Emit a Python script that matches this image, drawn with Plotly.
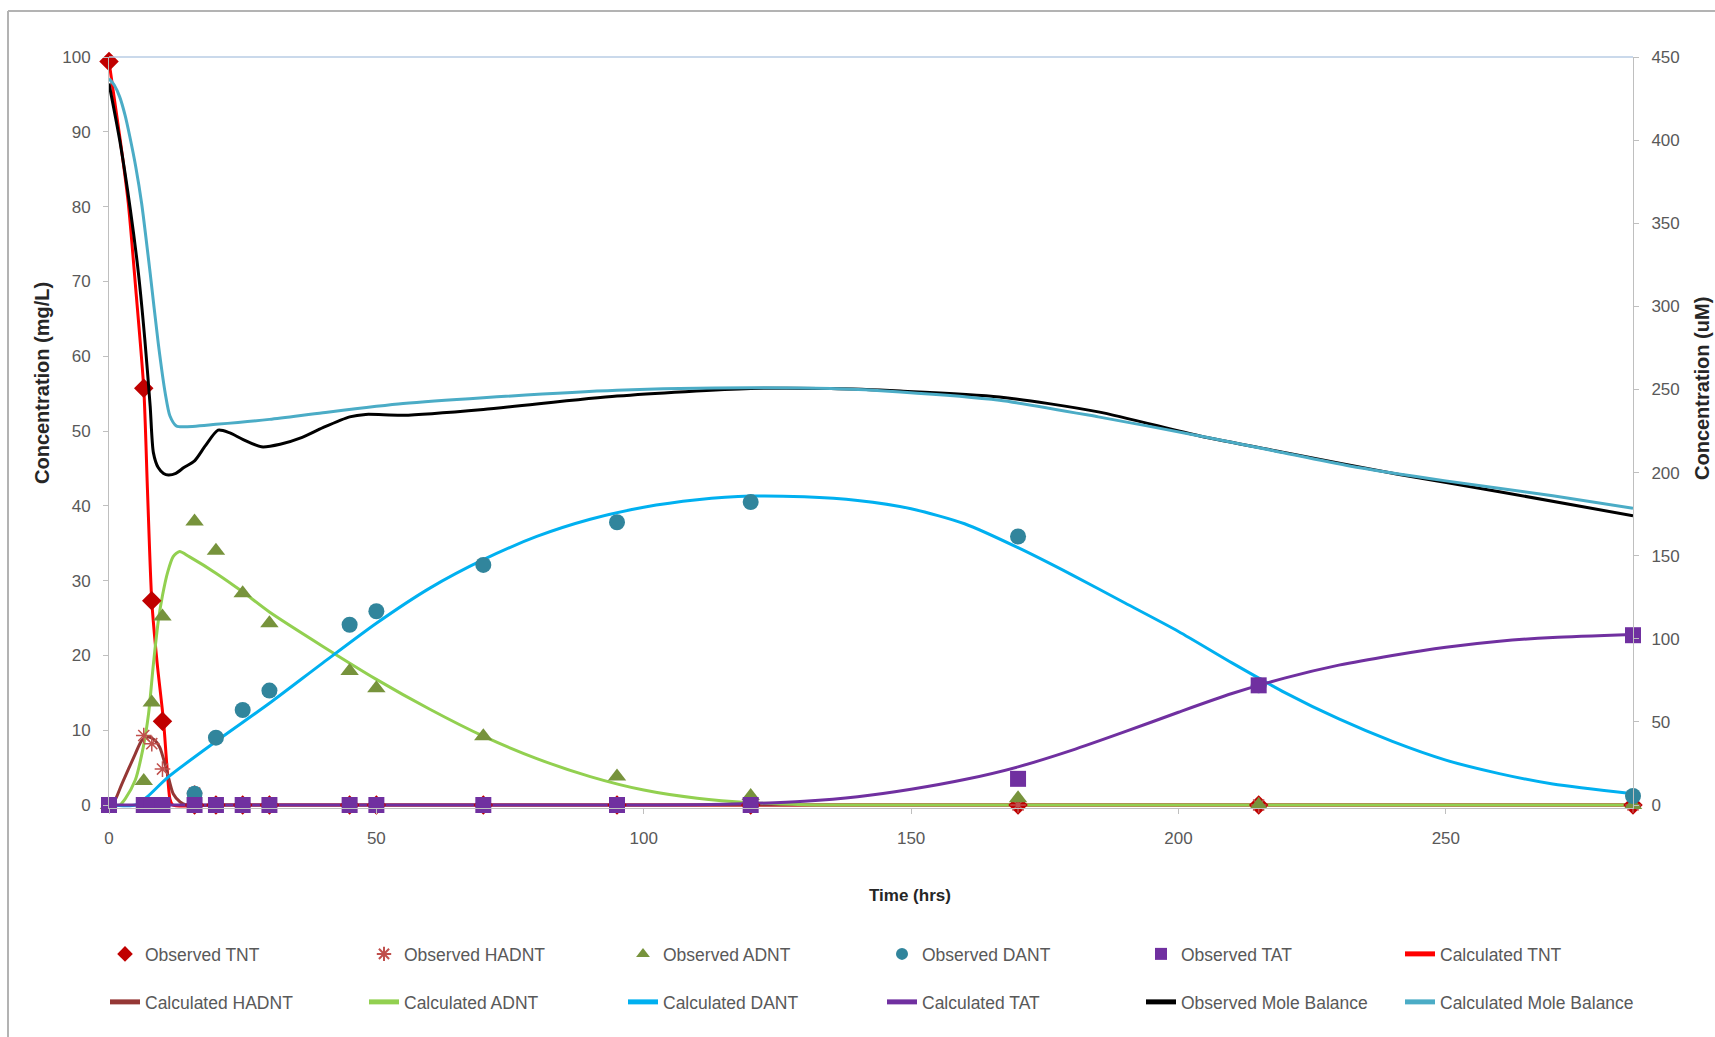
import plotly.graph_objects as go

# ---------------- data ----------------
obs_time = [0, 6.5, 8, 10, 16, 20, 25, 30, 45, 50, 70, 95, 120, 170, 215, 285]
obs_tnt = [99.4, 55.7, 27.3, 11.2, 0, 0, 0, 0, 0, 0, 0, 0, 0, 0, 0, 0]
obs_hadnt = [0, 9.3, 8.2, 4.8, 1.6, 0, 0, 0, 0, 0, 0, 0, 0, 0, 0, 0]
obs_adnt = [0, 3.2, 13.7, 25.2, 37.9, 34.0, 28.3, 24.3, 17.9, 15.6, 9.2, 3.8, 1.2, 0.9, 0, 0]
obs_dant = [0, 0, 0, 0, 1.5, 9.0, 12.7, 15.3, 24.1, 25.9, 32.1, 37.8, 40.5, 35.9, 16.0, 1.2]
obs_tat = [0, 0, 0, 0, 0, 0, 0, 0, 0, 0, 0, 0, 0, 3.5, 16.0, 22.7]

calc_tnt_t = [0, 2.1, 3.6, 5, 6.5, 7.2, 8, 9, 10.2, 10.8, 11.4, 11.9, 20, 285]
calc_tnt = [99.4, 88.9, 80.5, 69, 55.7, 42, 27.3, 19, 11.2, 5.5, 0.8, 0, 0, 0]

calc_hadnt_t = [0, 1, 2.4, 4.9, 6.1, 7.4, 8.5, 9.5, 10.8, 12, 13.3, 14.5, 20, 285]
calc_hadnt = [0, 0.5, 2.8, 6.8, 8.6, 9.1, 8.7, 7.7, 4.6, 1.5, 0.4, 0, 0, 0]

calc_adnt_t = [0, 2, 3, 4.9, 6.4, 7.4, 8.3, 9.2, 10, 11, 12, 13.2, 15, 20, 25, 30, 40,
               50, 60, 70, 80, 90, 100, 110, 120, 130, 140, 285]
calc_adnt = [0, 0, 0.8, 3.3, 7.7, 12.2, 18.8, 24.5, 28, 31.2, 33.2, 33.9, 33.2, 31, 28.5,
             25.8, 21.2, 16.8, 12.8, 9.2, 6.2, 3.8, 2.0, 0.9, 0.3, 0.05, 0, 0]

calc_dant_t = [0, 5, 7, 11, 20, 30, 40, 50, 60, 70, 80, 90, 100, 110, 120, 130, 140, 150,
               160, 170, 180, 190, 200, 210, 220, 230, 240, 250, 260, 270, 285]
calc_dant = [0, 0, 1.0, 3.7, 8.5, 13.6, 19, 24.3, 29, 32.8, 35.9, 38.2, 39.8, 40.8, 41.3,
             41.2, 40.7, 39.6, 37.6, 34.4, 30.8, 27, 23.2, 19, 15, 11.5, 8.5, 6, 4.2, 2.8, 1.5]

calc_tat_t = [0, 100, 110, 120, 130, 140, 150, 160, 170, 180, 190, 200, 210, 220, 230, 240,
              250, 260, 270, 285]
calc_tat = [0, 0, 0.05, 0.2, 0.5, 1.1, 2.1, 3.4, 5.1, 7.3, 9.8, 12.4, 14.9, 17.0, 18.7, 20.0,
            21.1, 21.9, 22.4, 22.8]

obs_mb_t = [0, 2, 4, 5.5, 6.7, 7.7, 8.3, 9.2, 10.2, 11.1, 12.5, 14, 16, 18, 20.4, 22.5, 25,
            28.5, 32, 36, 40, 45, 48, 55, 70, 95, 120, 135, 148, 166.5, 185, 204, 220, 241,
            260, 285]
obs_mb = [434, 400, 358, 320, 280, 240, 212, 203, 199.5, 198.5, 199.5, 203, 207, 216, 225.5,
          224, 220, 215.5, 217, 221, 227, 233.5, 235, 234.5, 238, 246, 250.5, 250.5, 249,
          245.5, 236.5, 222, 212, 199, 188.5, 174]

calc_mb_t = [0, 1, 2, 3, 3.9, 5, 6.1, 7.7, 9.2, 10.5, 11.4, 12.6, 14, 20, 30, 40, 55, 70, 95,
             120, 135, 148, 166.5, 185, 204, 218, 232, 250, 270, 285]
calc_mb = [437, 433, 426, 415, 402, 384, 362, 320, 278, 248, 234, 228, 227.5, 229, 232, 236,
           241.5, 245, 249.5, 251, 250.5, 248.5, 243.5, 233.5, 222, 213, 204, 195, 186, 178.5]

x_ticks = [0, 50, 100, 150, 200, 250]

# ---------------- styling ----------------
FONT = "Liberation Sans Narrow, Arial Narrow, Liberation Sans, Arial, sans-serif"
AXIS_GREY = "#bfbfbf"
TICK_COLOR = "#595959"

fig = go.Figure()


def add_line(name, t, v, color, rank, legend, yaxis="y"):
    fig.add_trace(go.Scatter(
        x=t, y=v, name=name, mode="lines", yaxis=yaxis,
        line=dict(color=color, width=3, shape="spline", smoothing=0.7),
        legend=legend, legendrank=rank, hoverinfo="skip"))


def add_markers(name, t, v, color, symbol, size, rank, legend, line=None):
    fig.add_trace(go.Scatter(
        x=t, y=v, name=name, mode="markers", cliponaxis=False,
        marker=dict(color=color, symbol=symbol, size=size,
                    line=line or dict(width=0)),
        legend=legend, legendrank=rank, hoverinfo="skip"))


add_line("Calculated TNT", calc_tnt_t, calc_tnt, "#ff0000", 6, "legend")
add_line("Calculated HADNT", calc_hadnt_t, calc_hadnt, "#953735", 7, "legend2")
add_line("Calculated ADNT", calc_adnt_t, calc_adnt, "#92d050", 8, "legend2")
add_line("Calculated DANT", calc_dant_t, calc_dant, "#00b0f0", 9, "legend2")
add_line("Calculated TAT", calc_tat_t, calc_tat, "#7030a0", 10, "legend2")

add_markers("Observed TNT", obs_time, obs_tnt, "#c00000", "diamond", 15, 1, "legend")
add_markers("Observed HADNT", obs_time, obs_hadnt, "#c0504d", "asterisk-open", 13, 2, "legend",
            line=dict(color="#c0504d", width=1.5))
add_markers("Observed ADNT", obs_time, obs_adnt, "#77933c", "triangle-up", 16, 3, "legend")
add_markers("Observed DANT", obs_time, obs_dant, "#31859c", "circle", 16, 4, "legend")
add_markers("Observed TAT", obs_time, obs_tat, "#7030a0", "square", 16, 5, "legend")

add_line("Observed Mole Balance", obs_mb_t, obs_mb, "#000000", 11, "legend2", yaxis="y2")
add_line("Calculated Mole Balance", calc_mb_t, calc_mb, "#4bacc6", 12, "legend2", yaxis="y2")

PLOT_L, PLOT_R, PLOT_T, PLOT_B = 109, 1633, 57, 808
W, H = 1715, 1037
pw, ph = PLOT_R - PLOT_L, PLOT_B - PLOT_T


def px(xp):
    return (xp - PLOT_L) / pw


def py(yp):
    return (PLOT_B - yp) / ph


tickfont = dict(family=FONT, size=17, color=TICK_COLOR)
legfont = dict(family=FONT, size=17.5, color=TICK_COLOR)

common_legend = dict(orientation="h", xanchor="left", yanchor="middle",
                     entrywidth=214, entrywidthmode="pixels", font=legfont,
                     bgcolor="rgba(0,0,0,0)", traceorder="normal", itemsizing="constant")

fig.update_layout(
    width=W, height=H,
    margin=dict(l=PLOT_L, r=W - PLOT_R, t=PLOT_T, b=H - PLOT_B),
    paper_bgcolor="white", plot_bgcolor="white",
    font=dict(family=FONT, size=17, color=TICK_COLOR),
    showlegend=True,
    xaxis=dict(range=[0, 285], tickvals=x_ticks, showline=True, linecolor=AXIS_GREY,
               linewidth=1, ticks="outside", ticklen=5, tickcolor=AXIS_GREY,
               showgrid=False, zeroline=False, tickfont=tickfont, ticklabelstandoff=10),
    yaxis=dict(range=[-0.4, 100], tick0=0, dtick=10, showline=True, linecolor=AXIS_GREY,
               linewidth=1, ticks="outside", ticklen=5, tickcolor=AXIS_GREY,
               showgrid=False, zeroline=False, tickfont=tickfont, ticklabelstandoff=9),
    yaxis2=dict(range=[-1.8, 450], tick0=0, dtick=50, overlaying="y", side="right",
                showline=True, linecolor=AXIS_GREY, linewidth=1, ticks="outside",
                ticklen=5, tickcolor=AXIS_GREY, showgrid=False, zeroline=False,
                tickfont=tickfont, ticklabelstandoff=9),
    legend=dict(common_legend, x=px(105), y=py(954)),
    legend2=dict(common_legend, x=px(105), y=py(1002)),
    shapes=[
        dict(type="line", xref="paper", yref="paper", x0=0, x1=1, y0=1, y1=1,
             line=dict(color="#b9cde5", width=1.5)),
        dict(type="line", xref="paper", yref="paper", x0=px(8), x1=px(1716), y0=py(11),
             y1=py(11), line=dict(color="#b3b3b3", width=2)),
        dict(type="line", xref="paper", yref="paper", x0=px(8), x1=px(8), y0=py(11),
             y1=py(1040), line=dict(color="#b3b3b3", width=2)),
    ],
    annotations=[
        dict(text="<b>Concentration (mg/L)</b>", xref="paper", yref="paper",
             x=px(42), y=py(383), textangle=-90, showarrow=False,
             font=dict(family=FONT, size=20, color="#262626"),
             xanchor="center", yanchor="middle"),
        dict(text="<b>Concentration (uM)</b>", xref="paper", yref="paper",
             x=px(1702), y=py(388), textangle=-90, showarrow=False,
             font=dict(family=FONT, size=20, color="#262626"),
             xanchor="center", yanchor="middle"),
        dict(text="<b>Time (hrs)</b>", xref="paper", yref="paper",
             x=px(910), y=py(895), showarrow=False,
             font=dict(family=FONT, size=17, color="#262626"),
             xanchor="center", yanchor="middle"),
    ],
)

fig.write_html("out.html")
